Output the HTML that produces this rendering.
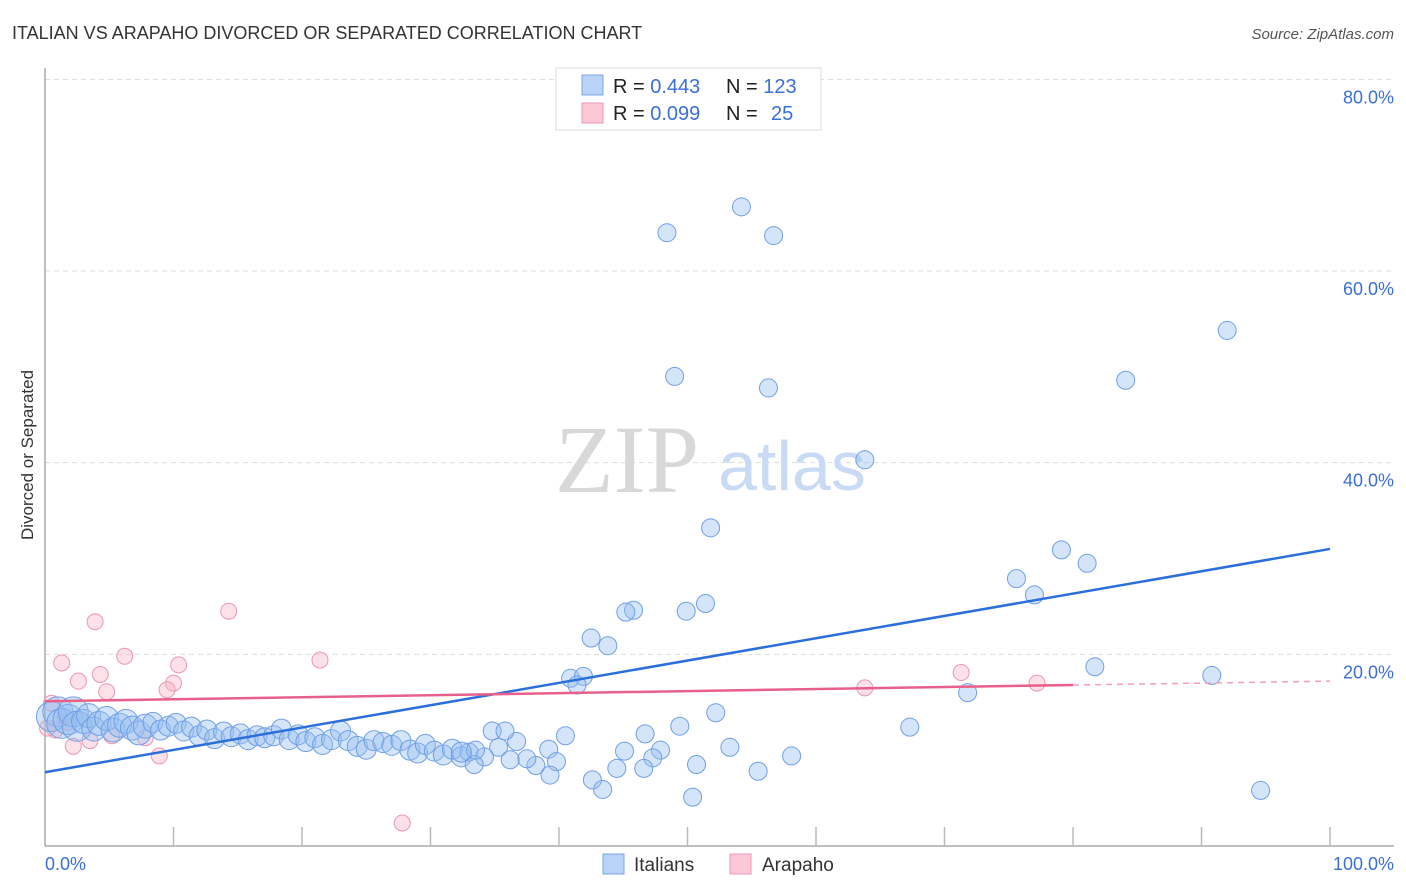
<!DOCTYPE html>
<html><head><meta charset="utf-8"><style>
body{margin:0;background:#fff;font-family:"Liberation Sans",sans-serif;}
svg{display:block}
</style></head><body>
<svg id="chart" width="1406" height="892">
<text x="12" y="39" font-size="18" fill="#333">ITALIAN VS ARAPAHO DIVORCED OR SEPARATED CORRELATION CHART</text>
<text x="1394" y="39" font-size="15" fill="#555" font-style="italic" text-anchor="end">Source: ZipAtlas.com</text>
<g id="grid"></g>
<g>
<text x="555" y="492" font-size="96" font-family="Liberation Serif,serif" fill="#d8d8d8">ZIP</text>
<text x="718" y="490" font-size="70" fill="#c9daf4">atlas</text>
</g>
<line x1="45" y1="68" x2="45" y2="846" stroke="#aaa" stroke-width="1.5"/>
<line x1="45" y1="846" x2="1394" y2="846" stroke="#aaa" stroke-width="1.5"/>
<g id="xticks"></g>
<g id="ylabels"></g>
<text x="45" y="870" font-size="18" fill="#3a6fd8">0.0%</text>
<text x="1394" y="870" font-size="18" fill="#3a6fd8" text-anchor="end">100.0%</text>
<text transform="translate(33,455) rotate(-90)" font-size="17" fill="#333" text-anchor="middle">Divorced or Separated</text>
<g id="pts"></g>
<g id="lines"></g>
<g>
<rect x="556" y="68" width="265" height="62" fill="#fff" stroke="#ddd"/>
<rect x="582" y="75" width="21" height="20" fill="#b9d3f7" stroke="#7aa6e8"/>
<rect x="582" y="103" width="21" height="20" fill="#fbc8d6" stroke="#ec97b1"/>
<text x="613" y="93" font-size="20" fill="#222">R = <tspan fill="#3a6fd8">0.443</tspan><tspan x="726">N = </tspan><tspan fill="#3a6fd8">123</tspan></text>
<text x="613" y="120" font-size="20" fill="#222">R = <tspan fill="#3a6fd8">0.099</tspan><tspan x="726">N = </tspan><tspan x="771" fill="#3a6fd8">25</tspan></text>
</g>
<g>
<rect x="603" y="854" width="21" height="20" fill="#b9d3f7" stroke="#7aa6e8"/>
<text x="634" y="871" font-size="19" fill="#333">Italians</text>
<rect x="730" y="854" width="21" height="20" fill="#fbc8d6" stroke="#ec97b1"/>
<text x="762" y="871" font-size="19" fill="#333">Arapaho</text>
</g>
</svg>
<script>
const yTicks=[20,40,60,80];
const yTickLabels=["20.0%","40.0%","60.0%","80.0%"];
const xTicks=[10,20,30,40,50,60,70,80,90,100];
const italians=[[0.5,13.5],[1,14],[1.3,12.8],[1.8,13.2],[2.2,14],[2.5,12.5],[3,13],[3.4,13.6],[3.8,12.2],[4.2,12.8],[4.8,13.3],[5.3,12.1],[5.8,12.6],[6.3,13],[6.8,12.3],[7.3,11.8],[7.8,12.5],[8.4,12.9],[9,12.1],[9.6,12.5],[10.2,12.8],[10.8,12],[11.4,12.4],[12,11.5],[12.6,12.1],[13.2,11.2],[13.9,11.9],[14.5,11.4],[15.2,11.7],[15.8,11.1],[16.5,11.5],[17.1,11.3],[17.8,11.5],[18.4,12.2],[19,11.1],[19.7,11.6],[20.3,10.9],[21,11.3],[21.6,10.6],[22.3,11.1],[23,12],[23.6,11],[24.3,10.4],[25,10.1],[25.6,11],[26.3,10.8],[27,10.5],[27.7,11],[28.4,10],[29,9.7],[29.6,10.6],[30.3,9.9],[31,9.5],[31.7,10.1],[32.4,9.3],[33,9.8],
[54.2,66.7],[48.4,64.0],[56.7,63.7],[92.0,53.8],[49.0,49.0],[56.3,47.8],[84.1,48.6],[63.8,40.3],[51.8,33.2],[79.1,30.9],[81.1,29.5],[75.6,27.9],[77.0,26.2],[51.4,25.3],[45.8,24.6],[49.9,24.5],[45.2,24.4],[42.5,21.7],[43.8,20.9],[81.7,18.7],[90.8,17.8],[40.9,17.5],[41.9,17.7],[41.4,16.8],[71.8,16.0],[52.2,13.9],[67.3,12.4],[49.4,12.5],[46.7,11.7],[53.3,10.3],[47.9,10.0],[45.1,9.9],[58.1,9.4],[47.3,9.2],[50.7,8.5],[55.5,7.8],[46.6,8.1],[44.5,8.1],[42.6,6.9],[43.4,5.9],[50.4,5.1],[94.6,5.8],[40.5,11.5],[39.2,10.1],[39.8,8.8],[38.2,8.4],[39.3,7.4],[37.5,9.1],[36.2,9.0],[36.7,10.9],[35.3,10.3],[34.8,12.0],[35.8,12.0],[34.2,9.3],[33.4,8.5],[33.5,10.0],[32.4,9.8]];
const arapaho=[[3.9,23.4],[14.3,24.5],[6.2,19.8],[1.3,19.1],[4.3,17.9],[10.4,18.9],[21.4,19.4],[2.6,17.2],[10.0,17.0],[4.8,16.1],[9.5,16.3],[0.5,14.9],[63.8,16.5],[71.3,18.1],[77.2,17.0],[27.8,2.4],[2.2,10.4],[3.5,11.0],[8.9,9.4],[0.8,12.1],[5.2,11.5],[7.8,11.3],[1.6,13.4],[1.8,12.9],[0.2,12.3]];
const italiansTrend=[[0,7.7],[100,31.0]];
const arapahoTrend=[[0,15.1],[80,16.8],[100,17.2]];
const X=v=>45+v*12.85, Y=v=>846-v*9.583;
const NS="http://www.w3.org/2000/svg";
function mk(t,a,p){const e=document.createElementNS(NS,t);for(const k in a)e.setAttribute(k,a[k]);p.appendChild(e);return e;}
const grid=document.getElementById('grid'),yl=document.getElementById('ylabels'),xt=document.getElementById('xticks');
yTicks.forEach((v,i)=>{
 const l=mk('line',{x1:45,x2:1394,y1:Y(v),y2:Y(v),stroke:'#ddd','stroke-dasharray':'5,4'},grid);
 
 
 const t=mk('text',{x:1394,y:Y(v)+24,'font-size':18,fill:'#3a6fd8','text-anchor':'end'},yl);
 t.textContent=yTickLabels[i];
 
 
});
xTicks.forEach(v=>{
 const l=mk('line',{x1:X(v),x2:X(v),y1:827,y2:846,stroke:'#bbb','stroke-width':1.5},xt);
 
 
});
const pts=document.getElementById('pts');
arapaho.forEach(d=>{
 const c=mk('circle',{cx:X(d[0]),cy:Y(d[1]),r:8,fill:'rgba(248,180,200,0.4)',stroke:'#ec97b1','stroke-width':1},pts);
 
 
});
italians.forEach(d=>{
 const r=d[0]<3?15:d[0]<8?12:d[0]<33?10:9;
 const c=mk('circle',{cx:X(d[0]),cy:Y(d[1]),r:r,fill:'rgba(150,190,240,0.4)',stroke:'#6f9fe6','stroke-width':1},pts);
 
 
});
const lines=document.getElementById('lines');
const bl=mk('line',{x1:X(italiansTrend[0][0]),y1:Y(italiansTrend[0][1]),x2:X(italiansTrend[1][0]),y2:Y(italiansTrend[1][1]),stroke:'#2a6fdb','stroke-width':2.5},lines);


const pl=mk('line',{x1:X(arapahoTrend[0][0]),y1:Y(arapahoTrend[0][1]),x2:X(arapahoTrend[1][0]),y2:Y(arapahoTrend[1][1]),stroke:'#e8608a','stroke-width':2.5},lines);


const pd=mk('line',{x1:X(arapahoTrend[1][0]),y1:Y(arapahoTrend[1][1]),x2:X(arapahoTrend[2][0]),y2:Y(arapahoTrend[2][1]),stroke:'#f0a0b8','stroke-width':1.5,'stroke-dasharray':'6,5'},lines);


</script>
</body></html>
